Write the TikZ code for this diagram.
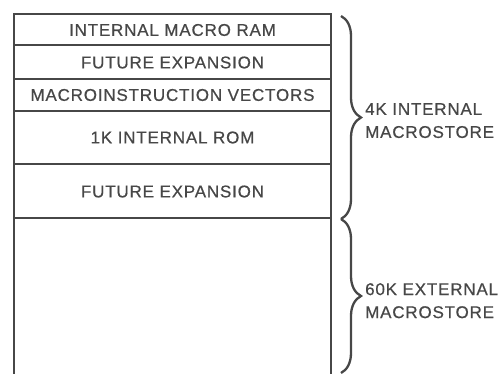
\documentclass[tikz,border=0pt]{standalone}
\usepackage{fontspec}
\newfontfamily\lblfont[LetterSpace=4.8,FakeBold=0.6]{Liberation Sans}
\usetikzlibrary{decorations.pathreplacing}
\definecolor{ink}{gray}{0.28}
\begin{document}
\begin{tikzpicture}[x=1pt,y=-1pt,
  frame/.style={draw=ink,line width=2.6pt},
  divider/.style={draw=ink,line width=2.2pt},
  celltext/.style={inner sep=0pt,text=ink,font=\lblfont\fontsize{17}{23}\selectfont},
  sidetext/.style={inner sep=0pt,text=ink,align=left,anchor=north west,font=\lblfont\fontsize{17}{23}\selectfont},
  bracestyle/.style={draw=ink,line width=2.3pt,decorate,decoration={brace,amplitude=20pt,aspect=0.5}}]
\useasboundingbox (0,0) rectangle (504,374);
% outer frame (open at bottom)
\coordinate (bl) at (14,375);
\coordinate (tl) at (14,14);
\coordinate (tr) at (331,14);
\coordinate (br) at (331,375);
\draw[frame,line join=miter] (bl) -- (tl) -- (tr) -- (br);
% dividers
\foreach \y/\n in {45/a,79/b,111/c,164/d,218/e}{
  \coordinate (\n L) at (14,\y);
  \coordinate (\n R) at (331,\y);
  \draw[divider] (\n L) -- (\n R);
}
% cell texts
\node[celltext] (ram) at (172.5,30) {INTERNAL MACRO RAM};
\node[celltext] (fut1) at (172.5,62.5) {FUTURE EXPANSION};
\node[celltext] (vec) at (172.5,95) {MACROINSTRUCTION VECTORS};
\node[celltext] (rom) at (172.5,137.5) {1K INTERNAL ROM};
\node[celltext] (fut2) at (172.5,191.5) {FUTURE EXPANSION};
% braces
\coordinate (b1s) at (341,16);
\coordinate (b1e) at (341,219);
\coordinate (b2s) at (341,219);
\coordinate (b2e) at (341,373);
\draw[bracestyle] (b1s) -- (b1e);
\draw[bracestyle] (b2s) -- (b2e);
% side labels
\node[sidetext] (int) at (365,103) {4K INTERNAL\\MACROSTORE};
\node[sidetext] (ext) at (365,283) {60K EXTERNAL\\MACROSTORE};
\end{tikzpicture}
\end{document}
